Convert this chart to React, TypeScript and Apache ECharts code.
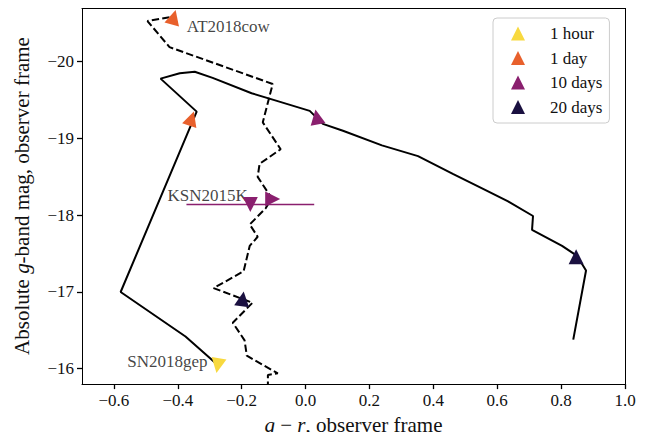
import { useEffect, useRef } from 'react';
import * as echarts from 'echarts';

// colour evolution tracks: [g - r, absolute g mag]
const sn2018gep: [number, number][] = [
  [-0.275, -16.05], [-0.376, -16.42], [-0.579, -17.0], [-0.341, -19.35],
  [-0.454, -19.78], [-0.394, -19.85], [-0.347, -19.87], [-0.291, -19.79],
  [-0.169, -19.59], [-0.09, -19.49], [0.013, -19.36], [0.054, -19.19],
  [0.117, -19.1], [0.239, -18.91], [0.352, -18.77], [0.461, -18.54],
  [0.562, -18.33], [0.634, -18.18], [0.712, -17.99], [0.709, -17.81],
  [0.803, -17.6], [0.85, -17.47], [0.878, -17.28], [0.838, -16.38]
];

const at2018cow: [number, number][] = [
  [-0.426, -20.58], [-0.495, -20.53], [-0.426, -20.19], [-0.103, -19.71],
  [-0.134, -19.21], [-0.078, -18.86], [-0.144, -18.67], [-0.15, -18.5],
  [-0.106, -18.22], [-0.125, -18.09], [-0.175, -17.88], [-0.15, -17.72],
  [-0.175, -17.6], [-0.194, -17.27], [-0.288, -17.05], [-0.166, -16.86],
  [-0.228, -16.6], [-0.191, -16.37], [-0.184, -16.17], [-0.087, -15.94],
  [-0.118, -15.92], [-0.118, -15.71]
];

// KSN2015K: single epoch with x error
const ksnX = -0.173;
const ksnY = -18.14;
const ksnXErr = 0.2;

// epoch markers: [x, y, rotation]
const hourMarks: [number, number, number][] = [[-0.275, -16.04, 170]];
const dayMarks: [number, number, number][] = [[-0.357, -19.26, -18], [-0.413, -20.58, -15]];
const tenDayMarks: [number, number, number][] = [[0.035, -19.28, 10], [-0.103, -18.21, -90], [ksnX, ksnY, 180]];
const twentyDayMarks: [number, number, number][] = [[0.847, -17.46, 0], [-0.197, -16.91, -8]];

const markNames = ['1 hour', '1 day', '10 days', '20 days'];
const markColors = ['#f8d93f', '#e8602c', '#8a1f6e', '#1a1040'];

// annotations: [text, x, y, side]
const annotations: [string, number, number, string][] = [
  ['AT2018cow', -0.372, -20.46, 'right'],
  ['KSN2015K', -0.181, -18.26, 'left'],
  ['SN2018gep', -0.307, -16.1, 'left']
];

// axis ranges (ticks every 0.2 in x, every 1 mag in y)
const xRange = [-0.7, 1.0];
const yRange = [-20.7, -15.8];

const FONT = 'Liberation Serif';
const minus = (s: string) => s.replace('-', '\u2212');

export default function App() {
  const chartRef = useRef<HTMLDivElement>(null);

  useEffect(() => {
    if (!chartRef.current) return;
    const chart = echarts.init(chartRef.current, undefined, { renderer: 'svg' });

    const markGroups = [hourMarks, dayMarks, tenDayMarks, twentyDayMarks];

    const option = {
      animation: false,
      grid: { left: 82, right: 27, top: 8, bottom: 49 },
      legend: {
        orient: 'vertical',
        left: 493,
        top: 18,
        data: markNames.map((n) => ({ name: n, icon: 'triangle' })),
        itemWidth: 14,
        itemHeight: 14,
        itemGap: 4.5,
        padding: [5.5, 7, 6, 18],
        borderColor: '#cccccc',
        borderWidth: 1,
        borderRadius: 4,
        backgroundColor: 'rgba(255,255,255,0.8)',
        textStyle: { fontFamily: FONT, fontSize: 17, color: '#111', lineHeight: 20, padding: [0, 0, 0, 20] }
      },
      xAxis: [
        {
          type: 'value',
          min: xRange[0],
          max: xRange[1],
          splitNumber: 8,
          name: '{i|g} \u2212 {i|r}, observer frame',
          nameLocation: 'middle',
          nameGap: 27,
          nameTextStyle: {
            fontFamily: FONT, fontSize: 21, color: '#111',
            rich: { i: { fontFamily: FONT, fontSize: 21, fontStyle: 'italic', color: '#111' } }
          },
          splitLine: { show: false },
          axisLine: { show: true, onZero: false, lineStyle: { color: '#000', width: 1 } },
          axisTick: { show: true, length: 5, lineStyle: { color: '#000', width: 1.3 } },
          axisLabel: {
            margin: 8, fontFamily: FONT, fontSize: 17, color: '#111', showMinLabel: false,
            formatter: (v: number) => minus(v.toFixed(1))
          }
        },
        {
          type: 'value', position: 'top', min: xRange[0], max: xRange[1],
          splitLine: { show: false },
          axisLine: { show: true, onZero: false, lineStyle: { color: '#000', width: 1 } },
          axisTick: { show: false }, axisLabel: { show: false }
        }
      ],
      yAxis: [
        {
          type: 'value',
          inverse: true,
          min: yRange[0],
          max: yRange[1],
          splitNumber: 5,
          name: 'Absolute {i|g}-band mag, observer frame',
          nameLocation: 'middle',
          nameGap: 50,
          nameTextStyle: {
            fontFamily: FONT, fontSize: 21, color: '#111',
            rich: { i: { fontFamily: FONT, fontSize: 21, fontStyle: 'italic', color: '#111' } }
          },
          splitLine: { show: false },
          axisLine: { show: true, onZero: false, lineStyle: { color: '#000', width: 1 } },
          axisTick: { show: true, length: 5, lineStyle: { color: '#000', width: 1.3 } },
          axisLabel: {
            margin: 8, fontFamily: FONT, fontSize: 17, color: '#111',
            showMinLabel: false, showMaxLabel: false,
            formatter: (v: number) => minus(String(v))
          }
        },
        {
          type: 'value', position: 'right', inverse: true, min: yRange[0], max: yRange[1],
          splitLine: { show: false },
          axisLine: { show: true, onZero: false, lineStyle: { color: '#000', width: 1 } },
          axisTick: { show: false }, axisLabel: { show: false }
        }
      ],
      series: [
        {
          type: 'line',
          data: sn2018gep,
          showSymbol: false,
          lineStyle: { color: '#000', width: 2 },
          z: 2
        },
        {
          type: 'line',
          data: at2018cow,
          showSymbol: false,
          lineStyle: { color: '#000', width: 2, type: [7.4, 3.2] },
          z: 2
        },
        {
          type: 'line',
          data: [[ksnX - ksnXErr, ksnY], [ksnX + ksnXErr, ksnY]],
          showSymbol: false,
          lineStyle: { color: markColors[2], width: 1.5 },
          z: 2
        },
        ...markGroups.map((g, i) => ({
          type: 'scatter',
          name: markNames[i],
          symbol: 'triangle',
          symbolSize: 15,
          itemStyle: { color: markColors[i], opacity: 1 },
          data: g.map(([x, y, r]) => ({ value: [x, y], symbolRotate: r })),
          z: 4
        })),
        {
          type: 'scatter',
          symbolSize: 0,
          silent: true,
          data: annotations.map(([t, x, y, side]) => ({
            value: [x, y],
            name: t,
            label: { position: side, distance: 0 }
          })),
          label: {
            show: true,
            formatter: (p: any) => p.name,
            fontFamily: FONT, fontSize: 17, color: '#111'
          },
          z: 3
        }
      ]
    };

    chart.setOption(option);
    return () => chart.dispose();
  }, []);

  return <div ref={chartRef} style={{ width: 652, height: 440, margin: -8 }} />;
}
